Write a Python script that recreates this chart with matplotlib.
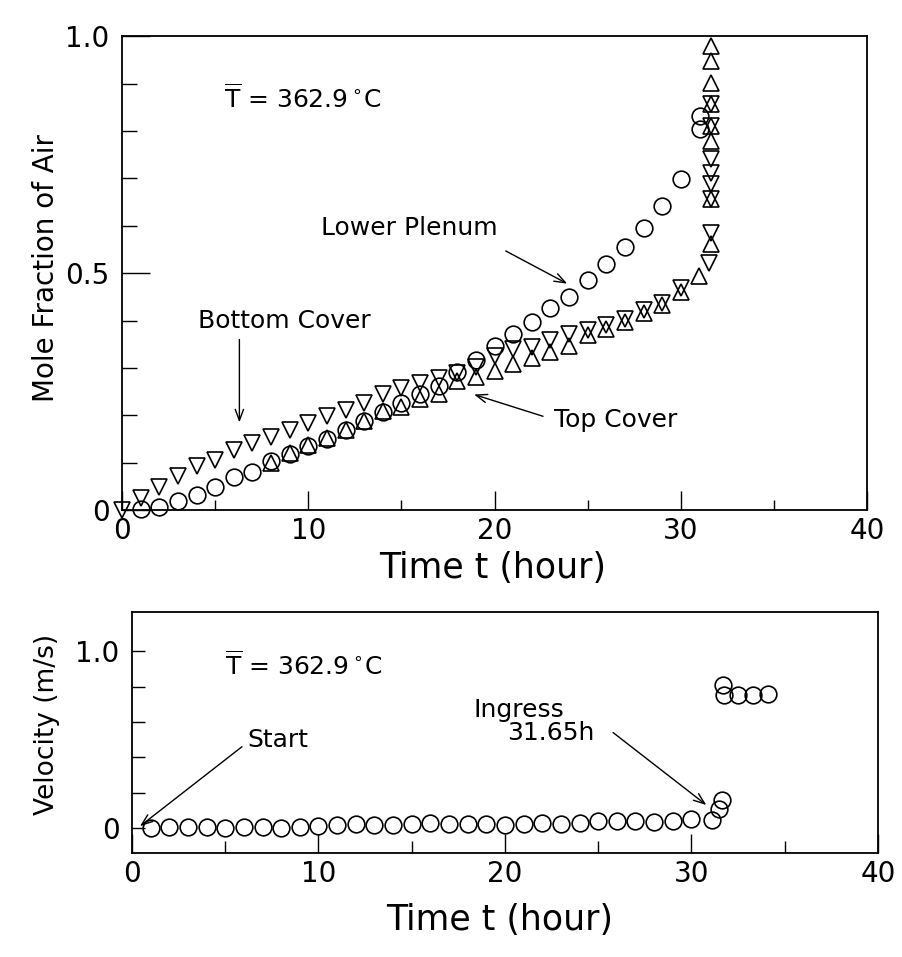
import matplotlib
matplotlib.use("Agg")
import matplotlib.pyplot as plt
from matplotlib.ticker import MultipleLocator, FixedLocator

plt.rcParams["font.family"] = ["DejaVu Sans"]
plt.rcParams["mathtext.fontset"] = "dejavusans"

# --------- DATA ---------
# upper panel: mole fraction of air vs time (hour)
plenum_t = [1, 2, 3, 4, 5, 6, 7, 8, 9, 10, 11, 12, 13, 14, 15, 16, 17, 18, 19, 20,
            21, 22, 23, 24, 25, 26, 27, 28, 29, 30, 31.05, 31.05]
plenum_y = [0.003, 0.006, 0.019, 0.032, 0.048, 0.070, 0.081, 0.103, 0.118, 0.136,
            0.151, 0.169, 0.189, 0.208, 0.226, 0.246, 0.262, 0.292, 0.316, 0.347,
            0.372, 0.398, 0.426, 0.450, 0.486, 0.519, 0.555, 0.596, 0.641, 0.698,
            0.805, 0.832]

bottom_t = [0, 1, 2, 3, 4, 5, 6, 7, 8, 9, 10, 11, 12, 13, 14, 15, 16, 17, 18, 19, 20,
            21, 22, 23, 24, 25, 26, 27, 28, 29, 30,
            31.5, 31.6, 31.6, 31.6, 31.6, 31.6, 31.6, 31.6]
bottom_y = [0.0, 0.026, 0.048, 0.072, 0.092, 0.105, 0.127, 0.142, 0.155, 0.169, 0.184,
            0.198, 0.211, 0.227, 0.245, 0.258, 0.268, 0.278, 0.290, 0.301, 0.325,
            0.340, 0.345, 0.358, 0.372, 0.380, 0.390, 0.403, 0.422, 0.438, 0.468,
            0.522, 0.585, 0.657, 0.688, 0.712, 0.741, 0.811, 0.857]

top_t = [8, 9, 10, 11, 12, 13, 14, 15, 16, 17, 18, 19, 20, 21, 22, 23, 24, 25, 26,
         27, 28, 29, 30, 31.0,
         31.6, 31.6, 31.6, 31.6, 31.6, 31.6, 31.6, 31.6]
top_y = [0.099, 0.120, 0.138, 0.153, 0.169, 0.189, 0.209, 0.217, 0.235, 0.246,
         0.272, 0.280, 0.293, 0.309, 0.322, 0.333, 0.346, 0.370, 0.383, 0.397,
         0.416, 0.432, 0.460, 0.495,
         0.562, 0.657, 0.779, 0.811, 0.857, 0.901, 0.947, 0.980]

# lower panel: velocity (m/s) vs time (hour)
vel_t = [1, 2, 3, 4, 5, 6, 7, 8, 9, 10, 11, 12, 13, 14, 15, 16, 17, 18, 19, 20,
         21, 22, 23, 24, 25, 26, 27, 28, 29, 30,
         31.1, 31.5, 31.65, 31.7, 31.75, 32.5, 33.3, 34.1]
vel_y = [0.0, 0.006, 0.008, 0.006, 0.002, 0.007, 0.004, 0.001, 0.003, 0.009,
         0.015, 0.021, 0.019, 0.015, 0.021, 0.027, 0.024, 0.021, 0.022, 0.019,
         0.021, 0.027, 0.024, 0.030, 0.037, 0.037, 0.039, 0.036, 0.042, 0.049,
         0.047, 0.108, 0.158, 0.810, 0.755, 0.750, 0.750, 0.760]

TEMP_LABEL = r"$\overline{\mathrm{T}}$ = 362.9$\,^{\circ}$C"

# --------- PLOT ---------
fig = plt.figure(figsize=(9.02, 9.57), dpi=100)
ax1 = fig.add_axes([0.1353, 0.467, 0.826, 0.495])
ax2 = fig.add_axes([0.1463, 0.109, 0.827, 0.251])

mk = dict(linestyle="none", mfc="none", mec="black", mew=1.2, ms=12, clip_on=False)
arrow = dict(arrowstyle="->,head_length=0.8,head_width=0.3", lw=1.0, color="black",
             shrinkA=0, shrinkB=0)

ax1.plot(plenum_t, plenum_y, marker="o", **mk)
ax1.plot(bottom_t, bottom_y, marker="v", **mk)
ax1.plot(top_t, top_y, marker="^", **mk)

ax1.set_xlim(0, 40)
ax1.set_ylim(0, 1.0)
ax1.xaxis.set_major_locator(MultipleLocator(10))
ax1.xaxis.set_minor_locator(MultipleLocator(5))
ax1.yaxis.set_major_locator(FixedLocator([0, 0.5, 1.0]))
ax1.yaxis.set_minor_locator(MultipleLocator(0.1))
ax1.set_yticklabels(["0", "0.5", "1.0"])
ax1.tick_params(axis="x", which="major", length=14)
ax1.tick_params(axis="x", which="minor", length=7)
ax1.tick_params(axis="y", which="major", length=20)
ax1.tick_params(axis="y", which="minor", length=11)

ax1.set_xlabel("Time t (hour)", fontsize=25)
ax1.set_ylabel("Mole Fraction of Air", fontsize=20)
ax1.xaxis.set_label_coords(0.498, -0.086)
ax1.yaxis.set_label_coords(-0.083, 0.51)

ax1.text(5.5, 0.87, TEMP_LABEL, fontsize=18, ha="left", va="center")
ax1.text(15.4, 0.595, "Lower Plenum", fontsize=18, ha="center", va="center")
ax1.annotate("", xy=(23.9, 0.478), xytext=(20.6, 0.547), arrowprops=arrow)
ax1.text(8.7, 0.40, "Bottom Cover", fontsize=18, ha="center", va="center")
ax1.annotate("", xy=(6.3, 0.185), xytext=(6.3, 0.36), arrowprops=arrow)
ax1.text(26.5, 0.19, "Top Cover", fontsize=18, ha="center", va="center")
ax1.annotate("", xy=(18.9, 0.244), xytext=(22.6, 0.198), arrowprops=arrow)

ax2.plot(vel_t, vel_y, marker="o", **mk)
ax2.set_xlim(0, 40)
ax2.set_ylim(-0.14, 1.22)
ax2.xaxis.set_major_locator(MultipleLocator(10))
ax2.xaxis.set_minor_locator(MultipleLocator(5))
ax2.yaxis.set_major_locator(FixedLocator([0, 1.0]))
ax2.yaxis.set_minor_locator(FixedLocator([0.2, 0.4, 0.6, 0.8]))
ax2.set_yticklabels(["0", "1.0"])
ax2.tick_params(axis="x", which="major", length=14)
ax2.tick_params(axis="x", which="minor", length=9)
ax2.tick_params(axis="y", which="both", length=9)

ax2.set_xlabel("Time t (hour)", fontsize=25)
ax2.set_ylabel("Velocity (m/s)", fontsize=19)
ax2.xaxis.set_label_coords(0.493, -0.21)
ax2.yaxis.set_label_coords(-0.096, 0.533)

ax2.text(5.0, 0.92, TEMP_LABEL, fontsize=18, ha="left", va="center")
ax2.text(6.2, 0.50, "Start", fontsize=18, ha="left", va="center")
ax2.annotate("", xy=(0.43, 0.01), xytext=(5.9, 0.46), arrowprops=arrow)
ax2.text(18.3, 0.67, "Ingress", fontsize=18, ha="left", va="center")
ax2.text(20.1, 0.54, "31.65h", fontsize=18, ha="left", va="center")
ax2.annotate("", xy=(30.8, 0.13), xytext=(25.8, 0.54), arrowprops=arrow)

for ax in (ax1, ax2):
    ax.tick_params(which="both", direction="in", top=False, right=False,
                   labelsize=20, width=1.0)
    ax.tick_params(axis="x", which="both", pad=5)
    ax.tick_params(axis="y", which="both", pad=9)
    for sp in ax.spines.values():
        sp.set_linewidth(1.3)

plt.savefig("out.png", dpi=100)
